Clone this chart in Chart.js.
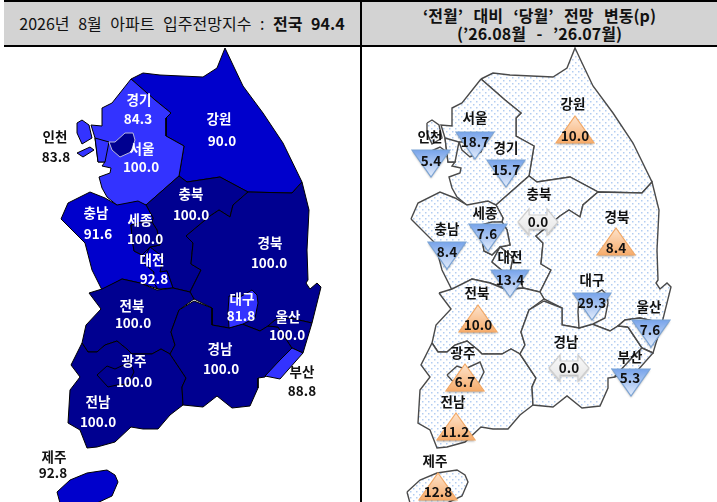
<!DOCTYPE html>
<html>
<head>
<meta charset="utf-8">
<script src="https://cdn.jsdelivr.net/npm/chart.js@4"></script>
<style>
    html, body { margin: 0; padding: 0; background: #fff; }
    body { position: relative; width: 717px; height: 502px; overflow: hidden; font-family: "Noto Sans CJK KR", sans-serif; color: #111; }
    .head { position: absolute; top: 0; height: 43px; background: #d3d3d3; border-top: 2px solid #000; border-bottom: 2px solid #000; text-align: center; box-sizing: content-box; white-space: nowrap; }
    #headLeft { left: 4px; width: 356px; font-size: 16px; line-height: 43px; word-spacing: 5px; }
    #headRight { left: 362px; width: 355px; font-size: 16px; line-height: 18px; font-weight: 700; padding-top: 0; word-spacing: 7px; }
    #headRight div:first-child { margin-top: 4px; }
    #divider { position: absolute; left: 360px; top: 0; width: 2px; height: 502px; background: #000; }
    .panel { position: absolute; top: 47px; width: 355px; height: 455px; }
    #panelLeft { left: 0; width: 360px; }
    #panelRight { left: 362px; }
</style>
</head>
<body>
<div class="head" id="headLeft">2026년 8월 아파트 입주전망지수 : <b>전국 94.4</b></div>
<div class="head" id="headRight"><div>‘전월’ 대비 ‘당월’ 전망 변동(p)</div><div>(’26.08월 - ’26.07월)</div></div>
<div id="divider"></div>
<div class="panel" id="panelLeft"><canvas id="mapaIndice"></canvas></div>
<div class="panel" id="panelRight"><canvas id="mapaCambio"></canvas></div>
<script>
// region order is the same in every array below
const regiones = ["강원", "경기", "인천", "서울", "충북", "경북", "충남", "세종", "대전", "전북", "전남", "광주", "경남", "대구", "울산", "부산", "제주"];
const indice = [90.0, 84.3, 83.8, 100.0, 100.0, 100.0, 91.6, 100.0, 92.8, 100.0, 100.0, 100.0, 100.0, 81.8, 100.0, 88.8, 92.8];
const cambio = [10.0, -15.7, -5.4, -18.7, 0.0, 8.4, -8.4, -7.6, -13.4, 10.0, 11.2, 6.7, 0.0, -29.3, -7.6, -5.3, 12.8];

const contornos = {
    "강원": [[131,79],[143,73],[160,75],[203,77],[217,68],[225,48],[233,65],[243,86],[263,113],[283,143],[302,182],[292,193],[248,192],[220,177],[187,182],[179,176],[184,146],[166,136],[166,118],[171,113],[155,100]],
    "경기": [[131,79],[155,100],[171,113],[166,118],[166,136],[184,146],[179,176],[146,205],[135,202],[118,206],[107,197],[102,188],[99,177],[110,173],[111,168],[102,166],[105,162],[98,162],[95,138],[91,125],[102,126],[102,108],[112,103]],
    "인천": [[95,138],[109,142],[105,162],[98,162]],
    "인천2": [[77,123],[82,120],[89,125],[92,138],[82,144],[77,133]],
    "인천3": [[77,153],[90,147],[94,150],[83,157]],
    "서울": [[109,142],[115,142],[125,133],[133,133],[135,140],[131,152],[120,157],[112,150]],
    "충북": [[146,205],[179,176],[187,182],[220,177],[248,192],[233,205],[230,217],[219,210],[210,216],[186,236],[193,243],[191,264],[201,270],[190,292],[173,288],[167,271],[160,272],[163,257],[150,247],[160,245],[157,230],[152,222],[153,218]],
    "경북": [[248,192],[292,193],[302,182],[309,210],[307,250],[308,280],[306,283],[310,289],[317,283],[321,287],[312,323],[290,318],[275,320],[268,326],[260,331],[242,324],[229,328],[212,325],[212,308],[194,299],[190,292],[201,270],[191,264],[193,243],[186,236],[210,216],[219,210],[230,217],[233,205]],
    "충남": [[61,219],[68,203],[90,192],[105,198],[117,205],[138,201],[146,205],[153,218],[152,222],[131,225],[132,238],[134,251],[142,255],[150,247],[142,262],[154,272],[153,282],[158,289],[140,283],[122,279],[102,290],[92,270],[85,243]],
    "세종": [[131,225],[142,222],[152,222],[157,230],[160,245],[150,247],[142,255],[134,251],[132,238]],
    "대전": [[142,262],[150,247],[163,257],[160,272],[167,271],[173,288],[158,289],[153,282],[154,272]],
    "전북": [[89,293],[102,289],[122,279],[140,283],[157,290],[173,288],[190,292],[194,299],[179,310],[171,332],[175,345],[170,354],[161,349],[152,354],[132,354],[128,350],[117,341],[105,345],[97,352],[88,352],[82,343],[86,325],[101,309]],
    "전남": [[82,343],[88,352],[97,352],[105,345],[117,341],[128,350],[132,354],[152,354],[161,349],[170,354],[186,378],[182,387],[183,405],[170,415],[158,429],[143,429],[131,427],[115,442],[97,447],[87,448],[80,430],[68,423],[70,390],[80,377],[71,365]],
    "광주": [[97,375],[107,366],[115,369],[130,362],[134,372],[128,384],[117,385],[108,387]],
    "경남": [[194,301],[212,308],[212,325],[229,328],[242,324],[260,331],[268,326],[278,327],[292,348],[280,360],[265,377],[258,378],[258,388],[250,406],[232,408],[217,396],[203,407],[183,405],[182,387],[186,378],[170,354],[175,345],[171,332],[179,310]],
    "대구": [[229,296],[240,297],[252,290],[257,295],[258,303],[255,318],[243,324],[229,328],[228,312]],
    "울산": [[278,327],[268,326],[275,320],[290,318],[312,323],[303,353],[292,348]],
    "부산": [[292,348],[303,353],[280,379],[265,376],[280,360]],
    "제주": [[57,492],[70,480],[87,473],[107,470],[115,475],[118,482],[112,496],[97,503],[60,503]]
};

// where each name, value and marker sits on the map
const etiquetasIndice = {
    "강원": [[219,119],[222,141]], "경기": [[139,100],[138,119]], "인천": [[55,137],[56,157]], "서울": [[142,149],[141,167]],
    "충북": [[191,194],[191,215]], "경북": [[270,243],[269,263]], "충남": [[96,213],[98,234]], "세종": [[140,220],[145,239]],
    "대전": [[152,260],[154,279]], "전북": [[132,306],[133,323]], "전남": [[98,402],[98,422]], "광주": [[134,361],[134,382]],
    "경남": [[220,349],[221,369]], "대구": [[242,299],[241,316]], "울산": [[288,317],[287,335]], "부산": [[302,372],[302,391]], "제주": [[54,457],[53,473]]
};
const etiquetasCambio = {
    "강원": [[223,104],[225,136]], "경기": [[156,148],[156,170]], "인천": [[80,137],[81,161]], "서울": [[125,118],[125,142]],
    "충북": [[189,194],[188,222]], "경북": [[267,217],[266,248]], "충남": [[97,229],[97,252]], "세종": [[135,213],[137,234]],
    "대전": [[160,257],[160,280]], "전북": [[127,293],[128,325]], "전남": [[103,402],[105,432]], "광주": [[113,353],[115,382]],
    "경남": [[216,342],[219,368]], "대구": [[242,280],[242,303]], "울산": [[299,307],[300,330]], "부산": [[280,357],[280,378]], "제주": [[85,461],[88,492]]
};
const marcadores = {
    "강원": [225,130], "경기": [156,174], "인천": [81,164], "서울": [125,146], "충북": [188,222], "경북": [266,242], "충남": [97,256], "세종": [138,238],
    "대전": [160,284], "전북": [128,319], "전남": [106,427], "광주": [115,378], "경남": [219,368], "대구": [242,307], "울산": [301,334], "부산": [281,383], "제주": [88,487]
};

// colour from the index band
function colorIndice(v) {
    if (v >= 100) return "#000090";
    if (v >= 90) return "#0000cc";
    return "#3333ff";
}

function puntos(lista) {
    let pts = lista.map(p => ({ x: p[0], y: p[1] }));
    pts.push(pts[0]);
    return pts;
}

function patronPuntos() {
    let c = document.createElement("canvas");
    c.width = 6;
    c.height = 6;
    let g = c.getContext("2d");
    g.fillStyle = "#ffffff";
    g.fillRect(0, 0, 6, 6);
    g.fillStyle = "#b3cdf2";
    g.fillRect(0, 0, 1.5, 1.5);
    g.fillRect(3, 3, 1.5, 1.5);
    return g.createPattern(c, "repeat");
}

// triangle / double arrow images for the change markers
function imagenMarcador(tipo) {
    let c = document.createElement("canvas");
    c.width = 46;
    c.height = 34;
    let g = c.getContext("2d");
    let grad = g.createLinearGradient(0, 3, 0, 30);
    g.beginPath();
    if (tipo === "sube") {
        grad.addColorStop(0, "#fde3cc");
        grad.addColorStop(1, "#f6ac6c");
        g.moveTo(23, 3); g.lineTo(42, 30); g.lineTo(4, 30);
        g.strokeStyle = "#f2a865";
    } else if (tipo === "baja") {
        grad.addColorStop(0, "#77a3ea");
        grad.addColorStop(1, "#e4edfb");
        g.moveTo(4, 3); g.lineTo(42, 3); g.lineTo(23, 30);
        g.strokeStyle = "#7ba4d6";
    } else {
        grad.addColorStop(0, "#fafafa");
        grad.addColorStop(1, "#e6e6e6");
        g.moveTo(3, 17); g.lineTo(14, 4); g.lineTo(14, 10); g.lineTo(32, 10); g.lineTo(32, 4);
        g.lineTo(43, 17); g.lineTo(32, 30); g.lineTo(32, 24); g.lineTo(14, 24); g.lineTo(14, 30);
        g.strokeStyle = "#cfcfcf";
    }
    g.closePath();
    g.shadowColor = "rgba(0,0,0,0.3)";
    g.shadowBlur = 2;
    g.shadowOffsetY = 1.5;
    g.fillStyle = grad;
    g.fill();
    g.shadowColor = "transparent";
    g.lineWidth = 1.2;
    g.stroke();
    return c;
}

const imgSube = imagenMarcador("sube");
const imgBaja = imagenMarcador("baja");
const imgIgual = imagenMarcador("igual");

// draws region name and value at their anchors, through the scales
function pluginTextos(textos) {
    return {
        id: "textos",
        afterDatasetsDraw(chart) {
            let ctx = chart.ctx;
            let sx = chart.scales.x;
            let sy = chart.scales.y;
            ctx.save();
            ctx.textAlign = "center";
            ctx.textBaseline = "middle";
            textos.forEach(t => {
                ctx.font = "bold 13.5px 'Noto Sans CJK KR'";
                ctx.fillStyle = t.color;
                ctx.fillText(t.txt, sx.getPixelForValue(t.x), sy.getPixelForValue(t.y));
            });
            ctx.restore();
        }
    };
}

function opciones(xMin, xMax) {
    return {
        responsive: false,
        animation: false,
        events: [],
        layout: { padding: 0, autoPadding: false },
        plugins: { legend: { display: false }, tooltip: { enabled: false } },
        scales: {
            x: { type: "linear", display: false, min: xMin, max: xMax },
            y: { type: "linear", display: false, min: 47, max: 502, reverse: true }
        }
    };
}

function dibujar(id, ancho, datasets, textos, xMin) {
    let canvas = document.getElementById(id);
    canvas.width = ancho;
    canvas.height = 455;
    canvas.style.width = ancho + "px";
    canvas.style.height = "455px";
    return new Chart(canvas.getContext("2d"), {
        type: "scatter",
        data: { datasets: datasets },
        options: Object.assign(opciones(xMin, xMin + ancho), { devicePixelRatio: 1 }),
        plugins: [pluginTextos(textos)]
    });
}

function indiceDe(nombre) {
    return regiones.indexOf(nombre.replace(/\d$/, ""));
}

const nombresContorno = Object.keys(contornos);

// left map: filled by index band
const capasIndice = nombresContorno.map((nombre, i) => ({
    data: puntos(contornos[nombre]),
    showLine: true,
    fill: "shape",
    tension: 0,
    pointRadius: 0,
    backgroundColor: colorIndice(indice[indiceDe(nombre)]),
    borderColor: nombre === "서울" ? "#b9b9d9" : "#000000",
    borderWidth: 1,
    order: 100 - i
}));

let textosIndice = [];
regiones.forEach((r, i) => {
    let fuera = r === "인천" || r === "부산" || r === "제주";
    let color = fuera ? "#111111" : "#ffffff";
    textosIndice.push({ txt: r, x: etiquetasIndice[r][0][0], y: etiquetasIndice[r][0][1], color: color });
    textosIndice.push({ txt: indice[i].toFixed(1), x: etiquetasIndice[r][1][0], y: etiquetasIndice[r][1][1], color: color });
});

dibujar("mapaIndice", 360, capasIndice, textosIndice, 0);

// right map: same outlines, dotted, with the change markers on top
const patron = patronPuntos();
const capasCambio = nombresContorno.map((nombre, i) => ({
    data: puntos(contornos[nombre]),
    showLine: true,
    fill: "shape",
    tension: 0,
    pointRadius: 0,
    backgroundColor: patron,
    borderColor: "#4a4a4a",
    borderWidth: 1.4,
    order: 100 - i
}));

capasCambio.push({
    data: regiones.map(r => ({ x: marcadores[r][0], y: marcadores[r][1] })),
    showLine: false,
    pointRadius: 20,
    pointStyle: ctx => {
        let v = cambio[ctx.dataIndex];
        return v > 0 ? imgSube : (v < 0 ? imgBaja : imgIgual);
    },
    order: 0
});

let textosCambio = [];
regiones.forEach((r, i) => {
    textosCambio.push({ txt: r, x: etiquetasCambio[r][0][0], y: etiquetasCambio[r][0][1], color: "#111111" });
    textosCambio.push({ txt: Math.abs(cambio[i]).toFixed(1), x: etiquetasCambio[r][1][0], y: etiquetasCambio[r][1][1], color: "#111111" });
});

// the right map sits about 350px further along the page, panel starts at 362
dibujar("mapaCambio", 355, capasCambio, textosCambio, 12);
</script>
</body>
</html>
